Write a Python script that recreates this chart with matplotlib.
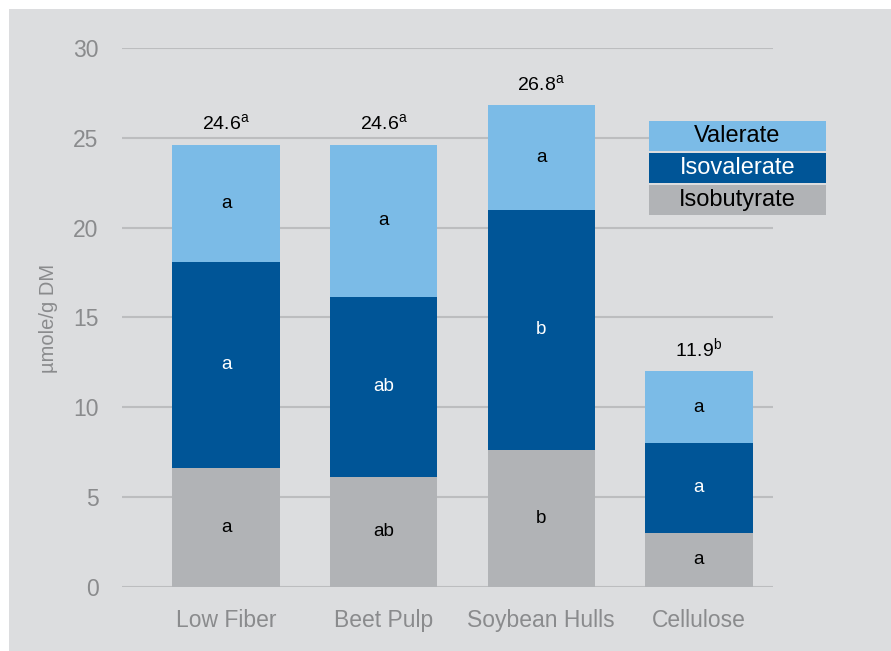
import numpy as np
import matplotlib
matplotlib.use('Agg')
import matplotlib.pyplot as plt
from matplotlib.patches import Rectangle

plt.rcParams['font.family'] = ['Liberation Sans', 'DejaVu Sans']
plt.rcParams['mathtext.fontset'] = 'custom'
plt.rcParams['mathtext.rm'] = 'Liberation Sans'

# DATA
categories = ['Low Fiber', 'Beet Pulp', 'Soybean Hulls', 'Cellulose']
isobutyrate = [6.6, 6.1, 7.6, 3.0]
isovalerate = [11.5, 10.05, 13.4, 5.0]
valerate = [6.5, 8.45, 5.8, 4.0]
totals = ['24.6', '24.6', '26.8', '11.9']
total_sup = ['a', 'a', 'a', 'b']
isobutyrate_sig = ['a', 'ab', 'b', 'a']
isovalerate_sig = ['a', 'ab', 'b', 'a']
valerate_sig = ['a', 'a', 'a', 'a']

C_VAL = '#7bbbe7'
C_ISOV = '#005597'
C_ISOB = '#b1b3b6'
BG = '#dcdddf'
GRID = '#bcbdbf'
TXT = '#8a8b8d'

W, H = 891, 651
fig = plt.figure(figsize=(W/100, H/100), dpi=100)
fig.patch.set_facecolor('white')
fig.patches.append(Rectangle((9/W, 0), 1, (H-9)/H, transform=fig.transFigure,
                             facecolor=BG, edgecolor='none', zorder=-10))

ax = fig.add_axes([122/W, 64.3/H, (773-122)/W, (586.7-48)/H])
ax.set_facecolor('none')

x = np.arange(len(categories))
width = 0.68
bottom2 = np.array(isobutyrate)
bottom3 = bottom2 + np.array(isovalerate)
ax.bar(x, isobutyrate, width, color=C_ISOB, zorder=2)
ax.bar(x, isovalerate, width, bottom=bottom2, color=C_ISOV, zorder=2)
ax.bar(x, valerate, width, bottom=bottom3, color=C_VAL, zorder=2)

# significance letters inside segments
FL = 13.5
for i in range(len(categories)):
    ax.text(x[i], isobutyrate[i]/2, isobutyrate_sig[i], ha='center', va='center',
            fontsize=FL, color='black', zorder=3)
    ax.text(x[i], bottom2[i] + isovalerate[i]/2, isovalerate_sig[i], ha='center',
            va='center', fontsize=FL, color='white', zorder=3)
    ax.text(x[i], bottom3[i] + valerate[i]/2, valerate_sig[i], ha='center',
            va='center', fontsize=FL, color='black', zorder=3)
    top = bottom3[i] + valerate[i]
    ax.annotate(totals[i] + r'$^{\rm ' + total_sup[i] + '}$', (x[i], top),
                xytext=(0, 10.5), textcoords='offset points', ha='center',
                va='baseline', fontsize=14, color='black')

ax.set_ylim(0, 30)
ax.set_xlim(-0.66, 3.47)
ax.set_yticks(np.arange(0, 31, 5))
ax.set_xticks(x)
ax.set_xticklabels(categories)
ax.yaxis.grid(True, color=GRID, linewidth=1.5, zorder=0)
ax.set_axisbelow(True)
for s in ax.spines.values():
    s.set_visible(False)
ax.tick_params(axis='both', length=0, colors=TXT, labelsize=16.5)
ax.tick_params(axis='y', pad=17)
ax.tick_params(axis='x', pad=16)
ax.set_ylabel('µmole/g DM', color=TXT, fontsize=14.5)
ax.yaxis.set_label_coords((58-122)/(773-122), (586.7-318)/(586.7-48))

# legend boxes
legend_rows = [('Valerate', C_VAL, 'black', 121, 151),
               ('Isovalerate', C_ISOV, 'white', 153, 183),
               ('Isobutyrate', C_ISOB, 'black', 185, 215)]
for label, fc, tc, y0, y1 in legend_rows:
    fig.patches.append(Rectangle((649/W, 1 - y1/H), (826-649)/W, (y1-y0)/H,
                                 transform=fig.transFigure, facecolor=fc,
                                 edgecolor='none', zorder=5))
    fig.text((649+826)/2/W, 1 - (y0+y1)/2/H, label, ha='center', va='center',
             fontsize=17, color=tc, zorder=6)

plt.savefig('out.png', dpi=100)
